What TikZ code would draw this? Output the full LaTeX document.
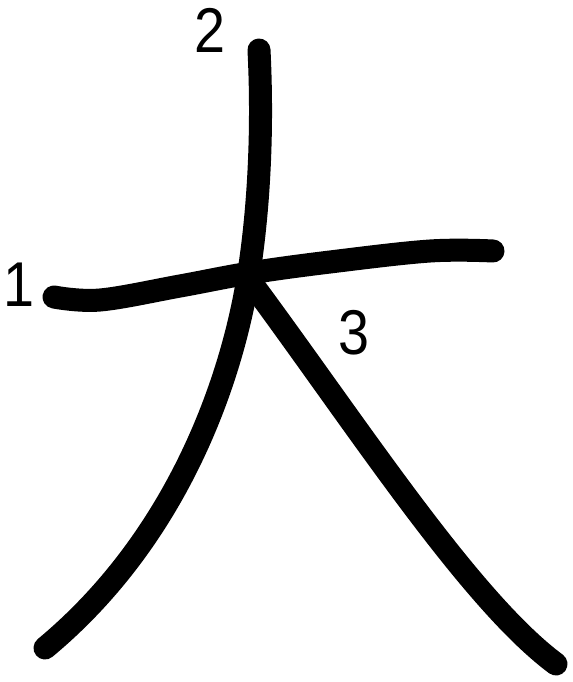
\documentclass[tikz,border=0pt]{standalone}
\usepackage{fontspec}
\setmainfont{Liberation Sans}
\begin{document}
\begin{tikzpicture}[x=0.01cm, y=-0.01cm]
    % Styles
    \tikzstyle{brush}=[line width=0.23cm, line cap=round, line join=round, black]
    \tikzstyle{order}=[inner sep=0pt, font=\fontsize{18}{18}\selectfont, xscale=0.88, transform shape]

    % Canvas
    \useasboundingbox (0,0) rectangle (573,682);

    % --- Stroke 1: horizontal ---
    \draw[brush] plot[smooth, tension=0.6] coordinates
        {(54,297) (100,300) (180,286) (250,273) (330,262) (430,251) (493,251)};

    % --- Stroke 2: down and sweeping left ---
    \draw[brush] (259,50) .. controls (264,150) and (256,240) .. (244,300)
                          .. controls (226,390) and (175,540) .. (45,648);

    % --- Stroke 3: sweeping right ---
    \draw[brush] (253,285) .. controls (360,430) and (470,600) .. (556,664);

    % --- Stroke order numbers ---
    \node[order] (num_1) at (19,285) {1};
    \node[order] (num_2) at (210,30) {2};
    \node[order] (num_3) at (354,333) {3};

\end{tikzpicture}
\end{document}
